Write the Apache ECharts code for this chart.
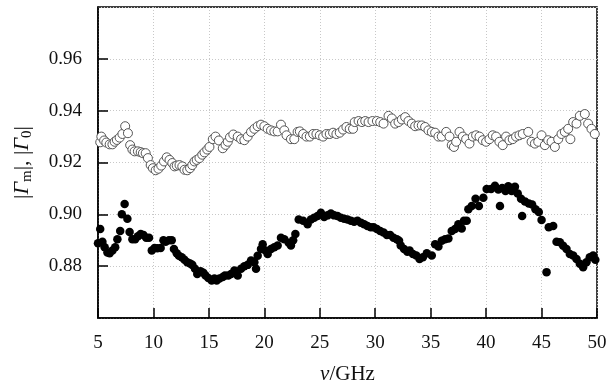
<!DOCTYPE html>
<html>
<head>
<meta charset="utf-8">
<script src="https://cdn.jsdelivr.net/npm/echarts@6/dist/echarts.min.js"></script>
<style>
  html, body { margin: 0; padding: 0; background: #fff; }
  #chart { width: 616px; height: 387px; }
</style>
</head>
<body>
<div id="chart"></div>
<script>
// x tick labels (GHz) and y ticks
var nuTicks = [5, 10, 15, 20, 25, 30, 35, 40, 45, 50];
var gammaTicks = [0.86, 0.88, 0.90, 0.92, 0.94, 0.96, 0.98];

// open circles, |Γ0|
var openNu = [5.2, 5.3, 5.55, 5.75, 6.05, 6.3, 6.5, 6.7, 6.95, 7.2, 7.45, 7.7, 7.9, 8.1, 8.3, 8.6, 8.85, 9.05, 9.3, 9.5,
  9.75, 9.95, 10.2, 10.45, 10.7, 10.95, 11.2, 11.45, 11.7, 11.9, 12.1, 12.35, 12.6, 12.8, 13.05, 13.3, 13.5, 13.7, 13.9, 14.15,
  14.4, 14.6, 14.85, 15.05, 15.35, 15.6, 15.9, 16.25, 16.5, 16.7, 16.9, 17.2, 17.6, 17.9, 18.2, 18.5, 18.8, 19.1, 19.4, 19.7,
  20.0, 20.3, 20.6, 20.9, 21.2, 21.5, 21.8, 22.0, 22.4, 22.7, 23.0, 23.2, 23.5, 23.8, 24.1, 24.4, 24.7, 25.0, 25.3, 25.6,
  25.9, 26.2, 26.5, 26.8, 27.1, 27.4, 27.7, 28.0, 28.15, 28.5, 28.8, 29.1, 29.4, 29.75, 30.15, 30.45, 30.75, 31.2, 31.5, 31.8,
  32.1, 32.4, 32.7, 33.0, 33.3, 33.6, 33.9, 34.2, 34.5, 34.8, 35.1, 35.4, 35.7, 36.0, 36.4, 36.7, 36.9, 37.1, 37.3, 37.6,
  37.9, 38.2, 38.5, 38.8, 39.1, 39.4, 39.7, 40.0, 40.3, 40.6, 40.9, 41.2, 41.5, 41.8, 42.1, 42.4, 42.7, 43.0, 43.3, 43.8,
  44.1, 44.4, 44.7, 45.0, 45.3, 45.6, 45.9, 46.2, 46.5, 46.8, 47.1, 47.4, 47.6, 47.85, 48.15, 48.45, 48.9, 49.2, 49.5, 49.8];
var openGamma = [0.9278, 0.930, 0.9285, 0.9277, 0.927, 0.927, 0.928, 0.9287, 0.9296, 0.931, 0.934, 0.9313, 0.9267, 0.925, 0.9243, 0.9243, 0.924, 0.9236, 0.9236, 0.9217,
  0.919, 0.9178, 0.917, 0.9176, 0.9188, 0.9204, 0.922, 0.921, 0.9198, 0.9185, 0.9188, 0.919, 0.9185, 0.9172, 0.917, 0.9178, 0.919, 0.9204, 0.921, 0.9217,
  0.923, 0.9239, 0.925, 0.926, 0.929, 0.930, 0.9285, 0.9255, 0.9268, 0.928, 0.9297, 0.9308, 0.930, 0.929, 0.9286, 0.930, 0.9318, 0.933, 0.934, 0.9346,
  0.934, 0.933, 0.9324, 0.932, 0.932, 0.9346, 0.9324, 0.9305, 0.929, 0.929, 0.9318, 0.932, 0.931, 0.930, 0.930, 0.931, 0.931, 0.9305, 0.930, 0.931,
  0.931, 0.9315, 0.931, 0.9315, 0.9327, 0.9337, 0.933, 0.933, 0.9356, 0.936, 0.9356, 0.936, 0.9356, 0.936, 0.936, 0.9356, 0.935, 0.938, 0.937, 0.935,
  0.9356, 0.9366, 0.9375, 0.936, 0.935, 0.934, 0.9343, 0.9343, 0.9337, 0.9324, 0.9318, 0.9315, 0.930, 0.930, 0.9318, 0.930, 0.9267, 0.926, 0.928, 0.9318,
  0.930, 0.929, 0.9273, 0.930, 0.9305, 0.930, 0.9286, 0.928, 0.929, 0.9305, 0.930, 0.928, 0.9267, 0.930, 0.9286, 0.929, 0.930, 0.9305, 0.931, 0.9318,
  0.928, 0.9273, 0.928, 0.9305, 0.9267, 0.9286, 0.928, 0.926, 0.929, 0.931, 0.9318, 0.933, 0.929, 0.9356, 0.935, 0.938, 0.9387, 0.935, 0.933, 0.931];

// filled dots, |Γm|
var filledNu = [5.0, 5.2, 5.4, 5.6, 5.85, 6.05, 6.3, 6.55, 6.75, 7.0, 7.15, 7.4, 7.65, 7.85, 8.1, 8.35, 8.6, 8.85, 9.1, 9.35,
  9.6, 9.85, 10.1, 10.35, 10.65, 10.9, 11.1, 11.4, 11.65, 11.85, 12.1, 12.3, 12.55, 12.8, 13.05, 13.3, 13.5, 13.75, 13.95, 14.25,
  14.5, 14.7, 14.95, 15.25, 15.5, 15.7, 15.95, 16.25, 16.45, 16.75, 17.0, 17.3, 17.6, 17.9, 18.2, 18.5, 18.8, 19.1, 19.25, 19.4,
  19.7, 19.85, 20.1, 20.3, 20.6, 20.9, 21.2, 21.5, 21.8, 22.2, 22.4, 22.6, 22.8, 23.1, 23.5, 23.9, 24.2, 24.5, 24.8, 25.1,
  25.4, 25.7, 26.0, 26.3, 26.6, 26.9, 27.2, 27.5, 27.8, 28.1, 28.4, 28.7, 29.0, 29.3, 29.6, 29.85, 30.15, 30.45, 30.75, 31.05,
  31.35, 31.65, 31.95, 32.15, 32.3, 32.6, 32.9, 33.1, 33.4, 33.7, 34.0, 34.3, 34.65, 35.1, 35.4, 35.7, 36.0, 36.3, 36.6, 36.9,
  37.2, 37.5, 37.8, 38.0, 38.25, 38.4, 38.7, 39.05, 39.35, 39.75, 40.05, 40.45, 40.8, 41.1, 41.25, 41.45, 41.75, 42.0, 42.3, 42.6,
  42.85, 43.15, 43.25, 43.5, 43.85, 44.15, 44.45, 44.75, 45.0, 45.45, 45.65, 46.05, 46.35, 46.65, 46.95, 47.25, 47.55, 47.85, 48.15, 48.45,
  48.75, 49.05, 49.35, 49.65, 49.85];
var filledGamma = [0.8888, 0.8943, 0.8894, 0.8873, 0.8853, 0.885, 0.886, 0.8873, 0.8904, 0.8936, 0.900, 0.904, 0.8983, 0.8932, 0.8904, 0.8904, 0.8915, 0.8924, 0.892, 0.891,
  0.891, 0.886, 0.887, 0.8869, 0.887, 0.890, 0.8894, 0.890, 0.890, 0.8866, 0.885, 0.884, 0.8834, 0.8825, 0.8815, 0.881, 0.8805, 0.879, 0.877, 0.878,
  0.8775, 0.8764, 0.8754, 0.8745, 0.8752, 0.8745, 0.8752, 0.8758, 0.8764, 0.8764, 0.877, 0.8783, 0.8764, 0.879, 0.880, 0.8805, 0.8822, 0.8815, 0.879, 0.884,
  0.8866, 0.8885, 0.886, 0.8847, 0.8866, 0.8873, 0.888, 0.891, 0.8904, 0.889, 0.888, 0.890, 0.8924, 0.898, 0.8975, 0.8962, 0.898, 0.8987, 0.8994, 0.9006,
  0.899, 0.8996, 0.9003, 0.8996, 0.8994, 0.8987, 0.8983, 0.898, 0.8975, 0.8971, 0.8975, 0.8968, 0.8962, 0.8955, 0.895, 0.895, 0.8943, 0.8936, 0.893, 0.892,
  0.892, 0.891, 0.8904, 0.8898, 0.888, 0.8866, 0.8856, 0.886, 0.8847, 0.8841, 0.8828, 0.8834, 0.885, 0.8841, 0.8885, 0.8876, 0.8898, 0.8904, 0.8907, 0.8936,
  0.8943, 0.8962, 0.8945, 0.8975, 0.8975, 0.902, 0.9032, 0.906, 0.9032, 0.9064, 0.9098, 0.9098, 0.911, 0.9096, 0.9032, 0.9102, 0.909, 0.9108, 0.909, 0.9106,
  0.908, 0.906, 0.8994, 0.905, 0.9042, 0.9038, 0.902, 0.9009, 0.8978, 0.8777, 0.895, 0.8955, 0.8894, 0.8892, 0.8879, 0.8866, 0.8847, 0.8841, 0.8828, 0.8809,
  0.8796, 0.8815, 0.8834, 0.8841, 0.8825];

var chart = echarts.init(document.getElementById("chart"));
var font = "Liberation Serif";

var option = {
	animation: false,
	backgroundColor: "#fff",
	grid: {
		left: 98, right: 19, top: 7, bottom: 69,
		outerBoundsMode: "none",
		show: true, borderColor: "#000", borderWidth: 1.5, backgroundColor: "transparent"
	},
	xAxis: {
		type: "value",
		min: nuTicks[0],
		max: nuTicks[nuTicks.length - 1],
		interval: nuTicks[1] - nuTicks[0],
		name: "{i|ν}/GHz",
		nameLocation: "middle",
		nameGap: 46,
		nameTextStyle: {
			fontFamily: font, fontSize: 21, color: "#111",
			rich: { i: { fontFamily: font, fontSize: 21, fontStyle: "italic", color: "#111" } }
		},
		axisLine: { lineStyle: { color: "#000", width: 1.5 } },
		axisTick: { inside: true, length: 10, lineStyle: { color: "#000", width: 1.5 } },
		axisLabel: { fontFamily: font, fontSize: 19, color: "#111", margin: 16 },
		splitLine: { show: true, lineStyle: { color: "#c8c8c8", type: [1, 2], width: 1 } }
	},
	yAxis: {
		type: "value",
		min: gammaTicks[0],
		max: gammaTicks[gammaTicks.length - 1],
		interval: 0.02,
		name: "|{g|Γ}{s|m}|, |{g|Γ}{s|0}|",
		nameLocation: "middle",
		nameGap: 63,
		nameRotate: 90,
		nameTextStyle: {
			fontFamily: font, fontSize: 22, color: "#111",
			rich: {
				g: { fontFamily: font, fontSize: 22, fontStyle: "italic", color: "#111" },
				s: { fontFamily: font, fontSize: 15, color: "#111", padding: [10, 0, 0, 0] }
			}
		},
		axisLine: { lineStyle: { color: "#000", width: 1.5 } },
		axisTick: { inside: true, length: 10, lineStyle: { color: "#000", width: 1.5 } },
		axisLabel: {
			fontFamily: font, fontSize: 19, color: "#111", margin: 16,
			showMinLabel: false, showMaxLabel: false,
			formatter: function (v) { return v.toFixed(2); }
		},
		splitLine: { show: true, lineStyle: { color: "#c8c8c8", type: [1, 2], width: 1 } }
	},
	series: [
		{
			type: "scatter",
			data: openNu.map(function (v, i) { return [v, openGamma[i]]; }),
			symbol: "circle",
			symbolSize: 9,
			itemStyle: { color: "#fff", borderColor: "#555", borderWidth: 1, opacity: 1 }
		},
		{
			type: "scatter",
			data: filledNu.map(function (v, i) { return [v, filledGamma[i]]; }),
			symbol: "circle",
			symbolSize: 8.5,
			itemStyle: { color: "#000", opacity: 1 }
		}
	]
};

chart.setOption(option);
</script>
</body>
</html>
